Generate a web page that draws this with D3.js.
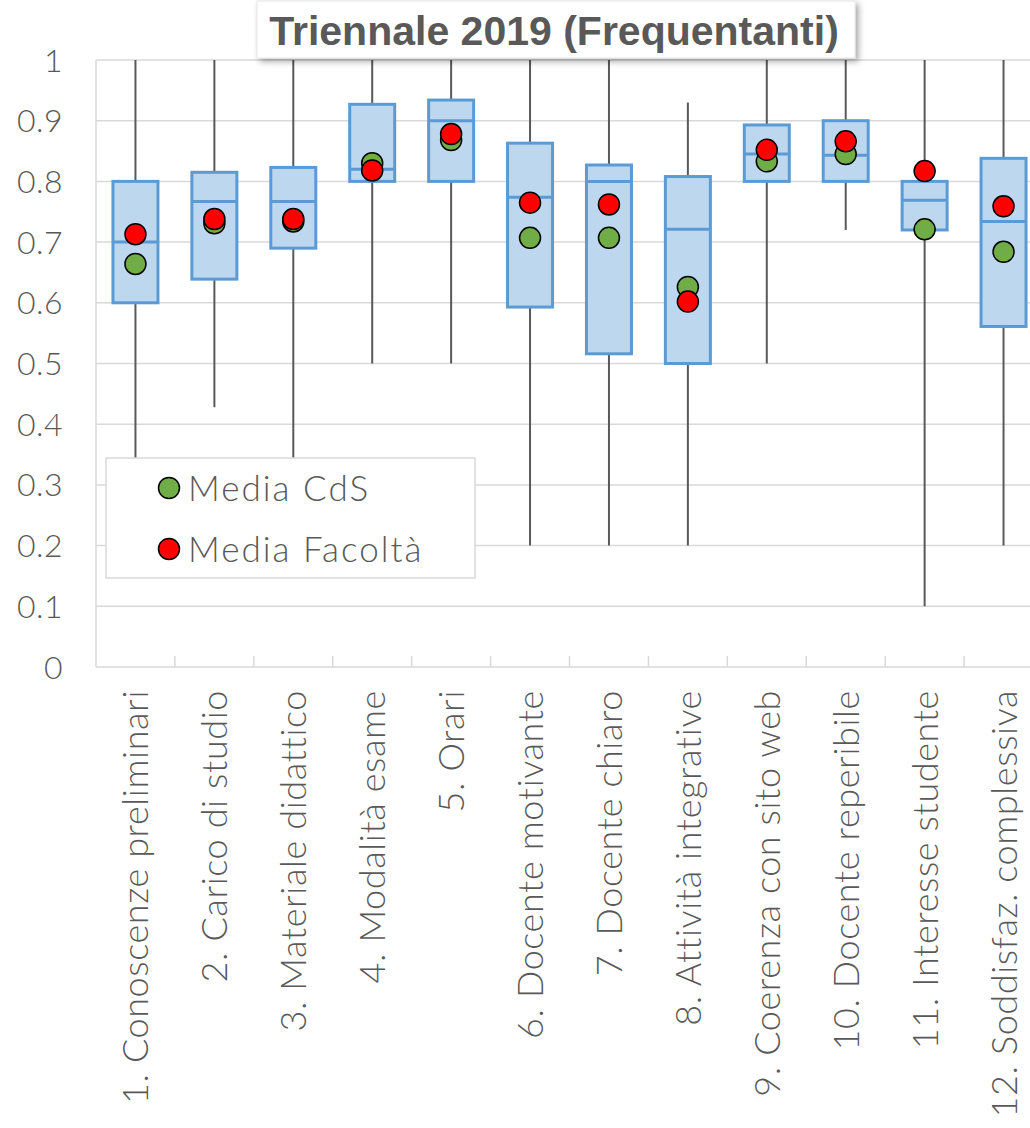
<!DOCTYPE html>
<meta charset="utf-8">
<style>
body { margin: 0; background: #fff; }
svg { display: block; }
.grid line { stroke: #d9d9d9; stroke-width: 1.5; }
.tick-label { font-family: Lato, sans-serif; font-weight: 300; fill: #595959; }
</style>
<body>
<svg width="1030" height="1128"></svg>
<script src="https://d3js.org/d3.v7.min.js"></script>
<script>

var categories = ["1. Conoscenze preliminari", "2. Carico di studio", "3. Materiale didattico",
  "4. Modalità esame", "5. Orari", "6. Docente motivante", "7. Docente chiaro",
  "8. Attività integrative", "9. Coerenza con sito web", "10. Docente reperibile",
  "11. Interesse studente", "12. Soddisfaz. complessiva"];

var whiskerMin = [0.2, 0.428, 0.2, 0.5, 0.5, 0.2, 0.2, 0.2, 0.5, 0.72, 0.1, 0.2];
var q1 = [0.6, 0.639, 0.69, 0.8, 0.8, 0.593, 0.516, 0.5, 0.8, 0.8, 0.72, 0.561];
var median = [0.7, 0.767, 0.767, 0.82, 0.9, 0.774, 0.8, 0.721, 0.845, 0.843, 0.769, 0.734];
var q3 = [0.8, 0.815, 0.823, 0.927, 0.934, 0.863, 0.827, 0.808, 0.893, 0.9, 0.8, 0.838];
var whiskerMax = [1, 1, 1, 1, 1, 1, 1, 0.93, 1, 1, 1, 1];

var mediaCdS = [0.664, 0.731, 0.734, 0.83, 0.868, 0.707, 0.707, 0.626, 0.833, 0.845, 0.721, 0.684];
var mediaFacolta = [0.713, 0.738, 0.738, 0.818, 0.878, 0.765, 0.762, 0.602, 0.852, 0.866, 0.817, 0.759];

var yTicks = [0, 0.1, 0.2, 0.3, 0.4, 0.5, 0.6, 0.7, 0.8, 0.9, 1];

var svg = d3.select("svg"),
    W = +svg.attr("width");

var x = d3.scaleBand().domain(categories).range([96, 1043]).padding(0),
    y = d3.scaleLinear().domain([0, 1]).range([667, 60]);

var boxW = 45;

var data = categories.map(function(c, i) {
  return {cat: c, lo: whiskerMin[i], q1: q1[i], med: median[i], q3: q3[i], hi: whiskerMax[i],
          cds: mediaCdS[i], fac: mediaFacolta[i]};
});

// gridlines
svg.append("g").attr("class", "grid")
  .selectAll("line")
  .data(yTicks.slice(1))
  .enter().append("line")
    .attr("x1", 96).attr("x2", W)
    .attr("y1", function(d) { return y(d); })
    .attr("y2", function(d) { return y(d); });

// axis lines
svg.append("line").attr("x1", 96).attr("x2", 96).attr("y1", y(1)).attr("y2", y(0))
  .attr("stroke", "#d9d9d9").attr("stroke-width", 1.5);
svg.append("line").attr("x1", 96).attr("x2", W).attr("y1", y(0)).attr("y2", y(0))
  .attr("stroke", "#d9d9d9").attr("stroke-width", 1.5);

svg.append("g").selectAll("line")
  .data(categories.slice(1))
  .enter().append("line")
    .attr("x1", function(d) { return x(d); })
    .attr("x2", function(d) { return x(d); })
    .attr("y1", y(0) - 11).attr("y2", y(0))
    .attr("stroke", "#d9d9d9").attr("stroke-width", 1.5);

// y labels
svg.append("g").selectAll("text")
  .data(yTicks)
  .enter().append("text")
    .attr("class", "tick-label")
    .attr("x", 63)
    .attr("y", function(d) { return y(d); })
    .attr("dy", "0.36em")
    .attr("text-anchor", "end")
    .style("font-size", "32px")
    .style("letter-spacing", "0.5px")
    .text(function(d) { return d3.format("")(d); });

// x labels
svg.append("g").selectAll("text")
  .data(categories)
  .enter().append("text")
    .attr("class", "tick-label")
    .attr("transform", function(d) { return "translate(" + (x(d) + x.bandwidth() / 2) + ",690) rotate(-90)"; })
    .attr("dy", "0.36em")
    .attr("text-anchor", "end")
    .style("font-size", "36px")
    .style("letter-spacing", "0.6px")
    .text(function(d) { return d; });

// boxes
var box = svg.append("g").selectAll("g")
  .data(data)
  .enter().append("g")
    .attr("transform", function(d) { return "translate(" + (x(d.cat) + x.bandwidth() / 2) + ",0)"; });

box.append("line")
  .attr("x1", 0).attr("x2", 0)
  .attr("y1", function(d) { return y(d.hi); })
  .attr("y2", function(d) { return y(d.lo); })
  .attr("stroke", "#595959").attr("stroke-width", 2);

box.append("rect")
  .attr("x", -boxW / 2).attr("width", boxW)
  .attr("y", function(d) { return y(d.q3); })
  .attr("height", function(d) { return y(d.q1) - y(d.q3); })
  .attr("fill", "#bdd7ee").attr("stroke", "#5b9bd5").attr("stroke-width", 3);

box.append("line")
  .attr("x1", -boxW / 2).attr("x2", boxW / 2)
  .attr("y1", function(d) { return y(d.med); })
  .attr("y2", function(d) { return y(d.med); })
  .attr("stroke", "#5b9bd5").attr("stroke-width", 3);

box.append("circle")
  .attr("cy", function(d) { return y(d.cds); })
  .attr("r", 10.5).attr("fill", "#70ad47").attr("stroke", "#000").attr("stroke-width", 1.5);

box.append("circle")
  .attr("cy", function(d) { return y(d.fac); })
  .attr("r", 10.5).attr("fill", "#ff0000").attr("stroke", "#000").attr("stroke-width", 1.5);

// legend
var legend = svg.append("g");
legend.append("rect")
  .attr("x", 106).attr("y", 458).attr("width", 369).attr("height", 120)
  .attr("fill", "#fff").attr("stroke", "#d9d9d9").attr("stroke-width", 1.5);

var legendItems = [{label: "Media CdS", color: "#70ad47", cy: 488},
                   {label: "Media Facoltà", color: "#ff0000", cy: 549}];

legend.selectAll("circle")
  .data(legendItems)
  .enter().append("circle")
    .attr("cx", 169).attr("cy", function(d) { return d.cy; })
    .attr("r", 10.5)
    .attr("fill", function(d) { return d.color; })
    .attr("stroke", "#000").attr("stroke-width", 1.5);

legend.selectAll("text")
  .data(legendItems)
  .enter().append("text")
    .attr("class", "tick-label")
    .attr("x", 188).attr("y", function(d) { return d.cy; })
    .attr("dy", "0.36em")
    .style("font-size", "35px")
    .style("letter-spacing", "2px")
    .text(function(d) { return d.label; });

// title
var defs = svg.append("defs");
var f = defs.append("filter").attr("id", "shadow").attr("x", "-10%").attr("y", "-30%")
  .attr("width", "120%").attr("height", "170%");
f.append("feDropShadow").attr("dx", 3).attr("dy", 3).attr("stdDeviation", 3)
  .attr("flood-color", "#000").attr("flood-opacity", 0.35);

svg.append("rect")
  .attr("x", 257).attr("y", 1).attr("width", 598).attr("height", 57)
  .attr("fill", "#fff").attr("stroke", "#e6e6e6").attr("stroke-width", 1)
  .attr("filter", "url(#shadow)");

svg.append("text")
  .attr("x", 554).attr("y", 45)
  .attr("text-anchor", "middle")
  .style("font-family", "'Liberation Sans', Arial, sans-serif")
  .style("font-weight", "bold")
  .style("font-size", "41px")
  .style("fill", "#595959")
  .text("Triennale 2019 (Frequentanti)");

</script>
</body>
